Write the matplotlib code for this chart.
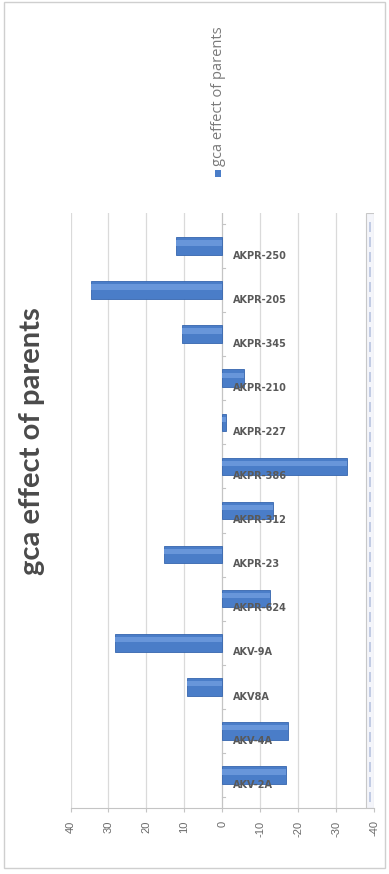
import matplotlib.pyplot as plt
from matplotlib.patches import Rectangle

# -------------------------------
# Data
# -------------------------------
parents = ["AKPR-250", "AKPR-205", "AKPR-345", "AKPR-210", "AKPR-227",
           "AKPR-386", "AKPR-312", "AKPR-23", "AKPR-624", "AKV-9A",
           "AKV8A", "AKV-4A", "AKV-2A"]
gca = [12.1, 34.6, 10.6, -5.8, -1.0, -33.0, -13.5, 15.3, -12.7, 28.2,
       9.2, -17.2, -16.9]
ticks = [40, 30, 20, 10, 0, -10, -20, -30, -40]

grey = "#595959"
blue = "#4a7dc8"

# -------------------------------
# Figure
# -------------------------------
fig = plt.figure(figsize=(3.89, 8.74), dpi=100)
ax = fig.add_axes([70.5 / 389, 1 - 808 / 874, 303.5 / 389, 595 / 874])

pos = list(range(len(parents)))

# grid
for t in ticks:
    ax.axvline(t, color="#dadada", lw=0.9, zorder=0)

# bars (cylinder look: dark base + light highlight)
ax.barh(pos, gca, height=0.4, color=blue, edgecolor="#3565ae",
        linewidth=0.6, zorder=2)
ax.barh([p - 0.07 for p in pos], gca, height=0.12, color="#6896da",
        linewidth=0, zorder=3)

# zero line with small ticks
ax.axvline(0, color="#c4c4c4", lw=0.8, zorder=1)
for i in range(len(parents) + 1):
    ax.plot([0, -0.8], [i - 0.5, i - 0.5], color="#c4c4c4", lw=0.8, zorder=1)

# category labels next to the zero line
for p, name in zip(pos, parents):
    ax.annotate(name, (0, p), xytext=(7.5, -7), textcoords="offset points",
                ha="left", va="center", fontsize=7, color=grey,
                family=["Liberation Sans Narrow", "DejaVu Sans"],
                weight="bold", zorder=4)

ax.set_xlim(40, -40)
ax.set_ylim(12.75, -0.75)
ax.set_xticks(ticks)
ax.set_xticklabels([str(t) for t in ticks], rotation=90, color="#6a6a6a",
                   fontsize=8, family="Liberation Sans")
ax.set_yticks([])
ax.tick_params(axis="x", length=3, pad=6, color="#c4c4c4")
for s in ["top", "left", "right"]:
    ax.spines[s].set_visible(False)
ax.spines["bottom"].set_color("#c4c4c4")

# side wall (3D floor seen edge-on)
ax.add_patch(Rectangle((0.972, 0.0), 0.028, 1.0, transform=ax.transAxes,
                       facecolor="#f4f5fa", edgecolor="#c8c8c8", lw=0.8,
                       zorder=1))
ax.plot([0.986, 0.986], [0.01, 0.99], transform=ax.transAxes,
        color="#b8c4e0", lw=1.2, ls=(0, (6, 3)), zorder=1)

# title
fig.text(32 / 389, 1 - 441 / 874, "gca effect of parents", rotation=90,
         ha="center", va="center", fontsize=21, weight="bold",
         color="#4a4a4a", family="Lato")

# legend
fig.patches.append(Rectangle((215 / 389, 1 - 177 / 874), 6 / 389, 7 / 874,
                             transform=fig.transFigure, facecolor=blue,
                             edgecolor="none"))
fig.text(219 / 389, 1 - 166 / 874, "gca effect of parents", rotation=90,
         ha="center", va="bottom", fontsize=10.5, color="#7a7a7a",
         family="Open Sans")

# chart frame
fig.patches.append(Rectangle((4 / 389, 6 / 874), 381 / 389, 866 / 874,
                             transform=fig.transFigure, facecolor="none",
                             edgecolor="#cfcfcf", lw=1.0))

fig.savefig("out.png", dpi=100)
